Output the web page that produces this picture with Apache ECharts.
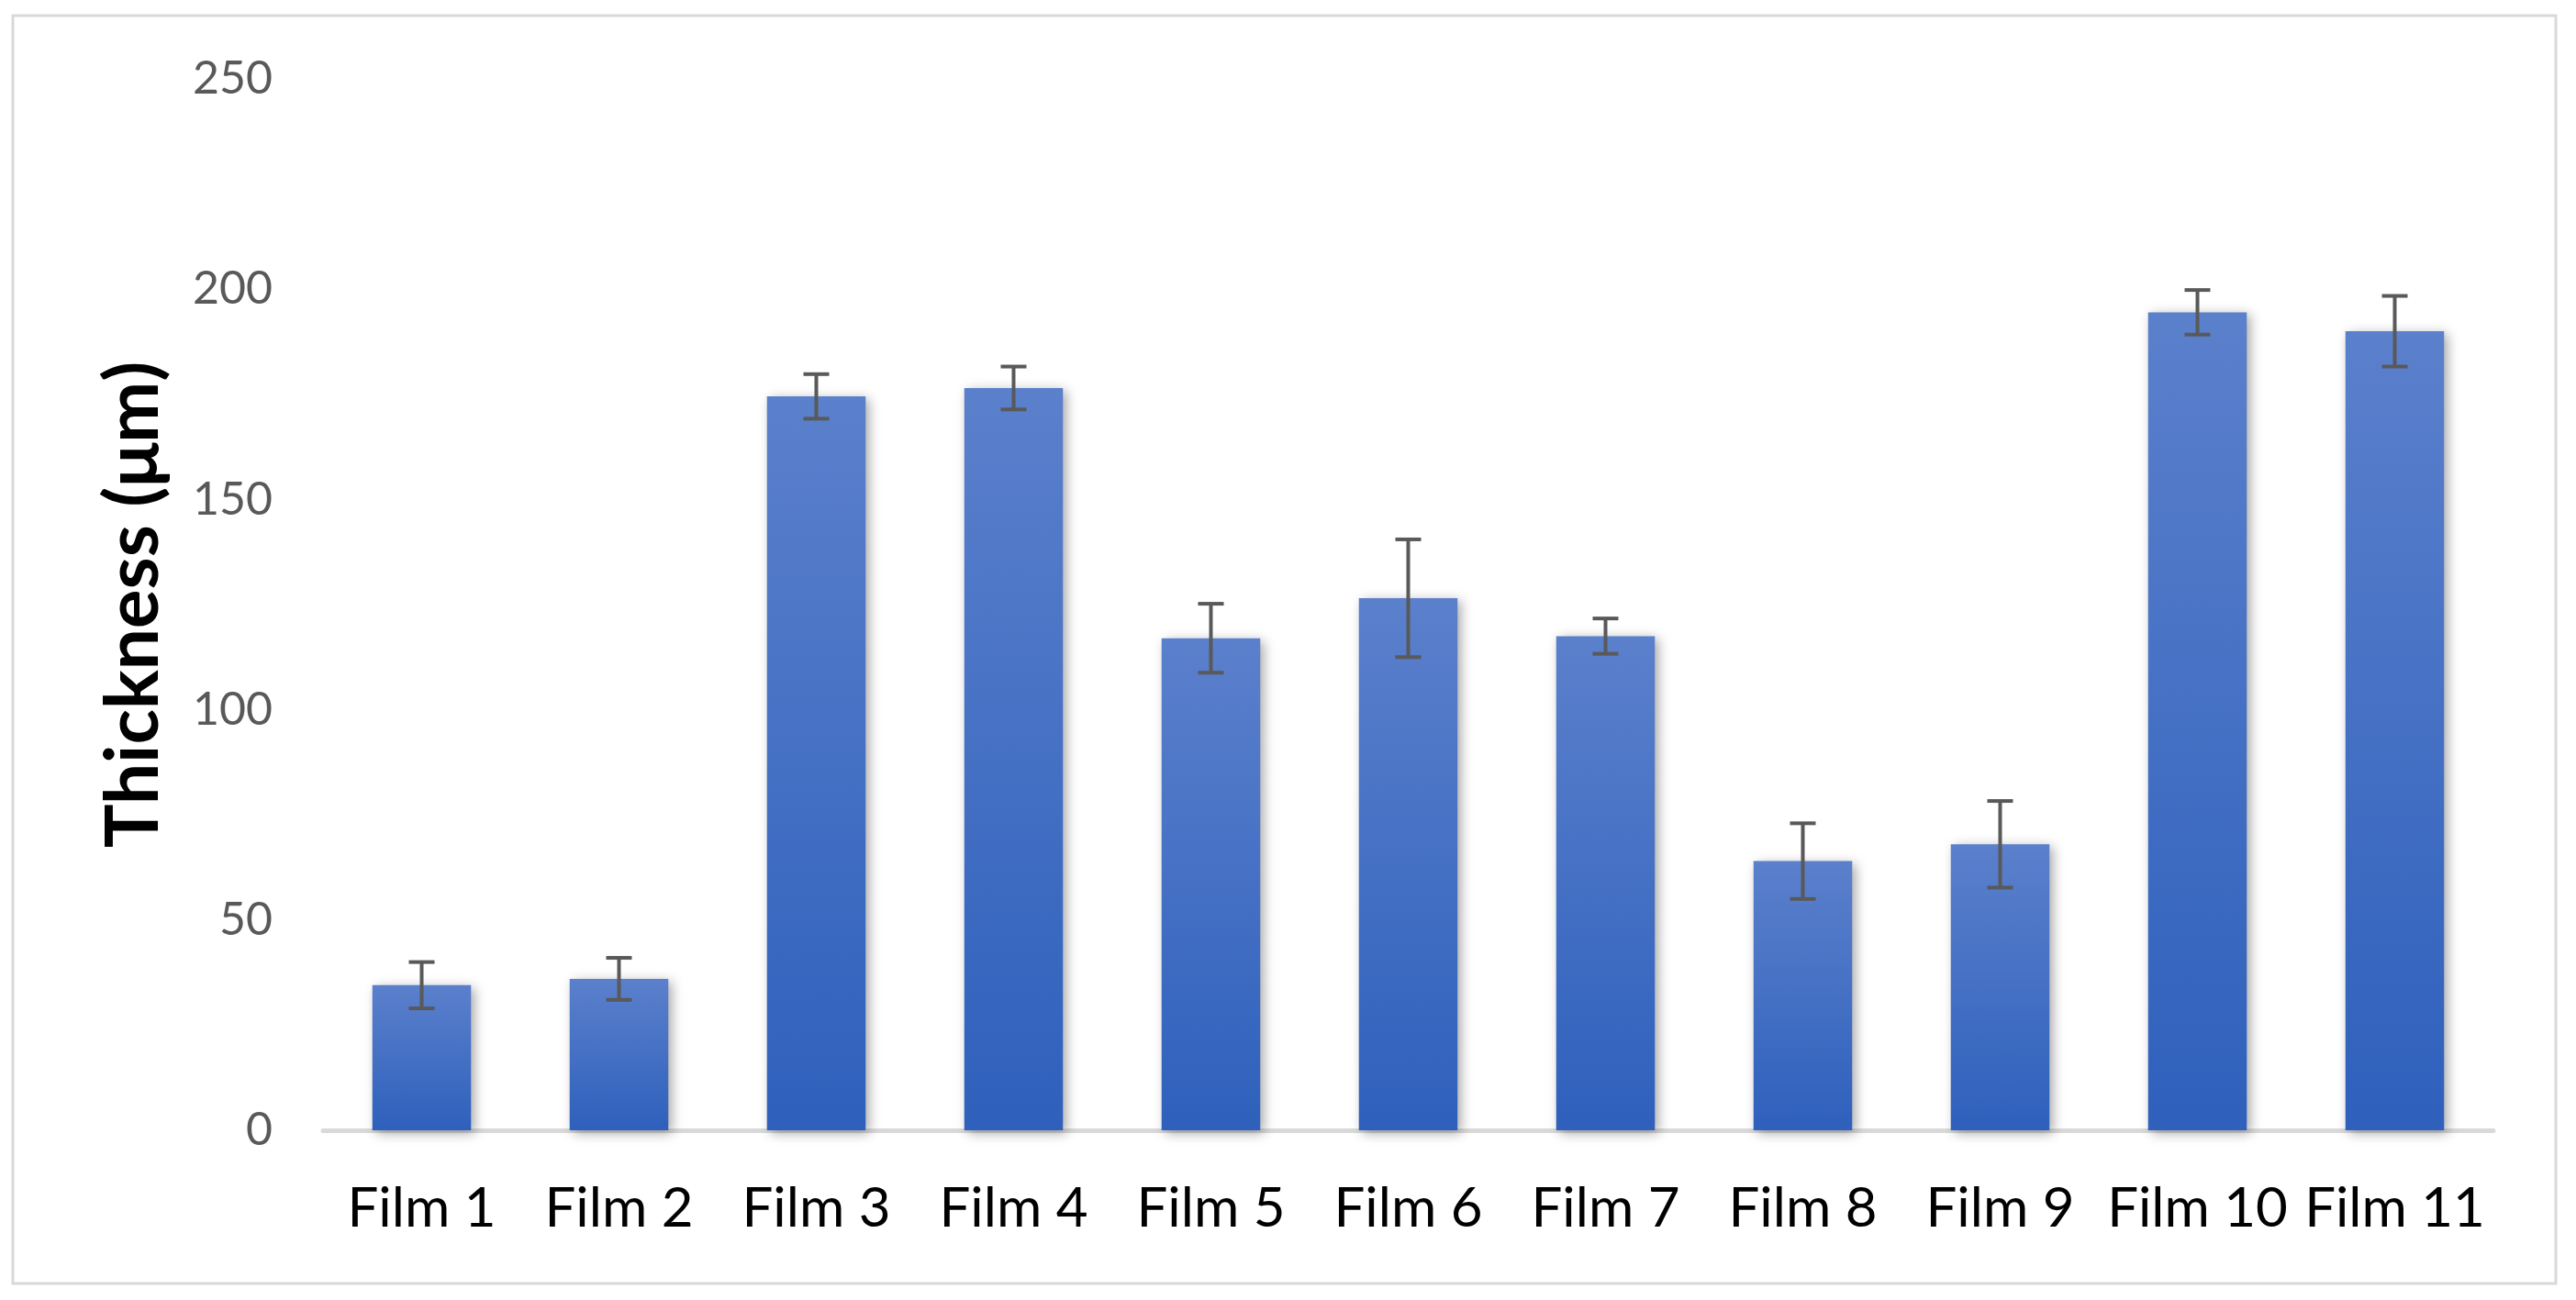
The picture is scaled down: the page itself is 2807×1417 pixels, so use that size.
<!DOCTYPE html>
<html>
<head>
<meta charset="utf-8">
<script src="https://cdn.jsdelivr.net/npm/echarts@6/dist/echarts.min.js"></script>
<style>
html,body{margin:0;padding:0;background:#fff;}
#chart{width:2807px;height:1417px;}
</style>
</head>
<body>
<div id="chart"></div>
<script>
const categories = ['Film 1','Film 2','Film 3','Film 4','Film 5','Film 6','Film 7','Film 8','Film 9','Film 10','Film 11'];
const thickness = [34.5, 36, 174.5, 176.5, 117, 126.5, 117.5, 64, 68, 194.5, 190];
const errors = [5.5, 5, 5.3, 5.1, 8.2, 14, 4.2, 9, 10.3, 5.3, 8.4];
const yTicks = [0, 50, 100, 150, 200, 250];

const errData = categories.map((c, i) => [i, thickness[i] - errors[i], thickness[i] + errors[i]]);

const chart = echarts.init(document.getElementById('chart'));
chart.setOption({
  backgroundColor: '#ffffff',
  animation: false,
  graphic: [{
    type: 'rect',
    shape: {x: 14, y: 17, width: 2771, height: 1382},
    style: {fill: 'none', stroke: '#d9d9d9', lineWidth: 3},
    silent: true, z: -1
  }],
  grid: {left: 352, right: 90, top: 86, bottom: 185},
  xAxis: {
    type: 'category',
    data: categories,
    axisLine: {lineStyle: {color: '#d9d9d9', width: 5}},
    axisTick: {show: false},
    axisLabel: {color: '#000000', fontSize: 60, fontFamily: 'Lato', margin: 56, interval: 0}
  },
  yAxis: {
    type: 'value',
    min: yTicks[0], max: yTicks[yTicks.length - 1], interval: 50,
    name: 'Thickness (μm)',
    nameLocation: 'middle',
    nameGap: 166,
    nameTextStyle: {color: '#000000', fontSize: 80, fontWeight: 'bold', fontFamily: 'Lato'},
    axisLine: {show: false},
    axisTick: {show: false},
    splitLine: {show: false},
    axisLabel: {color: '#595959', fontSize: 50, fontFamily: 'Lato', margin: 55}
  },
  series: [{
    type: 'bar',
    data: thickness,
    barWidth: '50%',
    itemStyle: {
      color: new echarts.graphic.LinearGradient(0, 0, 0, 1, [
        {offset: 0, color: '#5b80cc'},
        {offset: 1, color: '#2e60bc'}
      ]),
      shadowColor: 'rgba(0,0,0,0.35)',
      shadowBlur: 12,
      shadowOffsetX: 4,
      shadowOffsetY: 3
    }
  }, {
    type: 'custom',
    data: errData,
    z: 10,
    renderItem: function (params, api) {
      const x = api.value(0);
      const lo = api.coord([x, api.value(1)]);
      const hi = api.coord([x, api.value(2)]);
      const hw = 14;
      const st = {stroke: '#595959', lineWidth: 4};
      return {
        type: 'group',
        children: [
          {type: 'line', shape: {x1: hi[0], y1: hi[1], x2: lo[0], y2: lo[1]}, style: st},
          {type: 'line', shape: {x1: hi[0] - hw, y1: hi[1], x2: hi[0] + hw, y2: hi[1]}, style: st},
          {type: 'line', shape: {x1: lo[0] - hw, y1: lo[1], x2: lo[0] + hw, y2: lo[1]}, style: st}
        ]
      };
    }
  }]
});
</script>
</body>
</html>
